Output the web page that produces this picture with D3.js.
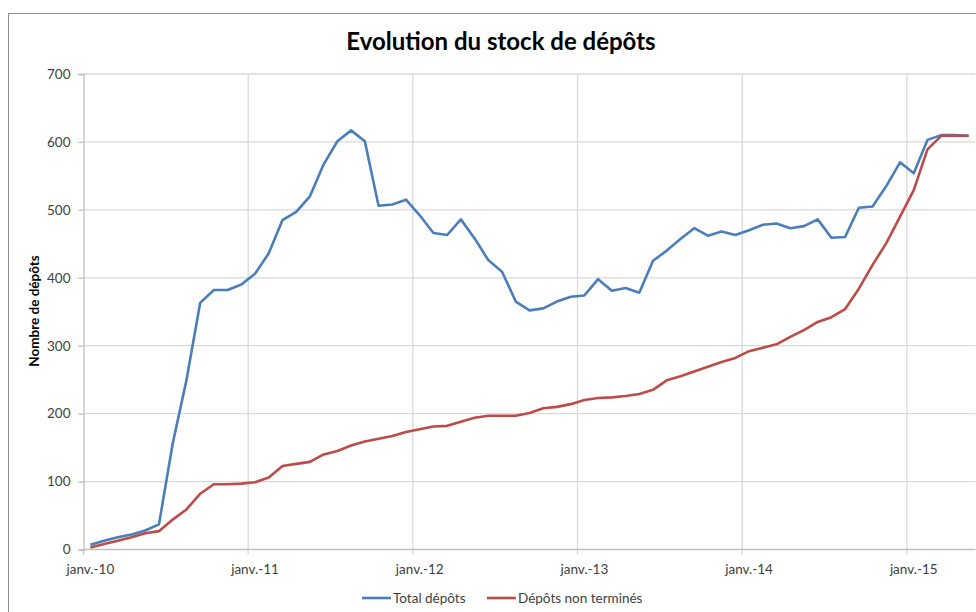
<!DOCTYPE html>
<html>
<head>
<meta charset="utf-8">
<script src="https://cdn.jsdelivr.net/npm/d3@7/dist/d3.min.js"></script>
<style>
  html, body { margin: 0; padding: 0; background: #fff; }
  svg { display: block; font-family: Lato, "Open Sans", sans-serif; }
</style>
</head>
<body>
<svg id="chart" width="976" height="612"></svg>
<script>
// Monthly stock of filings, January 2010 to May 2015
const startMonth = "2010-01";
const monthCount = 65;
const totalDepots = [7,13,18,22,28,37,156,249,363,382,382,390,
  406,436,485,497,520,567,601,617,601,506,508,515,
  492,466,463,486,458,426,409,365,352,355,365,372,
  374,398,381,385,378,425,440,457,473,462,468,463,
  470,478,480,473,476,486,459,460,503,505,535,570,
  554,603,610,610,609];
const depotsNonTermines = [3,8,13,18,24,27,44,59,82,96,96,97,
  99,106,123,126,129,140,145,153,159,163,167,173,
  177,181,182,188,194,197,197,197,201,208,210,214,
  220,223,224,226,229,235,249,255,262,269,276,282,
  292,297,302,313,323,335,342,354,384,419,451,490,
  529,589,609,609,609];
const yTicks = [0,100,200,300,400,500,600,700];
const yearLabels = ["janv.-10","janv.-11","janv.-12","janv.-13","janv.-14","janv.-15"];
const seriesNames = ["Total dépôts","Dépôts non terminés"];
const seriesColors = ["#4a7ebb","#be4b48"];

const parse = d3.utcParse("%Y-%m");
const months = d3.utcMonth.range(parse(startMonth), d3.utcMonth.offset(parse(startMonth), monthCount));
const fmtKey = d3.utcFormat("%Y-%m");
const keys = months.map(fmtKey);

const svg = d3.select("#chart");

// Chart frame
svg.append("rect")
  .attr("x", 8.5).attr("y", 13.5).attr("width", 1000).attr("height", 700)
  .attr("fill", "#fff").attr("stroke", "#8c8c8c").attr("stroke-width", 1);

const plotLeft = 83.5, plotRight = 975.5, plotTop = 74, plotBottom = 549.5;

const x = d3.scaleBand().domain(keys).range([plotLeft, plotRight]).padding(0);
const y = d3.scaleLinear().domain([0, 700]).range([plotBottom, plotTop]);

// Horizontal gridlines
svg.append("g")
  .selectAll("line").data(yTicks.filter(d => d > 0)).join("line")
  .attr("x1", plotLeft).attr("x2", plotRight)
  .attr("y1", d => y(d)).attr("y2", d => y(d))
  .attr("stroke", "#d9d9d9").attr("stroke-width", 1.3);

// Year boundaries: vertical gridlines at each January
const janKeys = keys.filter((k, i) => i % 12 === 0);
svg.append("g")
  .selectAll("line").data(janKeys.slice(1)).join("line")
  .attr("x1", d => x(d)).attr("x2", d => x(d))
  .attr("y1", plotTop).attr("y2", plotBottom + 5)
  .attr("stroke", "#d9d9d9").attr("stroke-width", 1.3);

// Y axis
const yAxis = svg.append("g")
  .attr("transform", `translate(${plotLeft},0)`)
  .call(d3.axisLeft(y).tickValues(yTicks).tickSize(5).tickPadding(8));
yAxis.select(".domain").attr("stroke", "#bfbfbf").attr("stroke-width", 1.3);
yAxis.selectAll(".tick line").attr("stroke", "#bfbfbf").attr("stroke-width", 1.3);
yAxis.selectAll(".tick text").attr("fill", "#404040").style("font-size", "13.5px")
  .style("font-family", "Lato, sans-serif");

// X axis baseline and January labels
svg.append("line")
  .attr("x1", plotLeft).attr("x2", plotRight).attr("y1", plotBottom).attr("y2", plotBottom)
  .attr("stroke", "#bfbfbf").attr("stroke-width", 1.3);
svg.append("line")
  .attr("x1", plotLeft).attr("x2", plotLeft).attr("y1", plotBottom).attr("y2", plotBottom + 5)
  .attr("stroke", "#bfbfbf").attr("stroke-width", 1.3);

svg.append("g")
  .selectAll("text").data(janKeys).join("text")
  .attr("x", d => x(d) + x.bandwidth() / 2)
  .attr("y", plotBottom + 24)
  .attr("text-anchor", "middle")
  .attr("fill", "#404040")
  .style("font-size", "13.5px")
  .text((d, i) => yearLabels[i]);

// Lines
const line = d3.line()
  .x((d, i) => x(keys[i]) + x.bandwidth() / 2)
  .y(d => y(d));

[totalDepots, depotsNonTermines].forEach((series, s) => {
  svg.append("path")
    .datum(series)
    .attr("fill", "none")
    .attr("stroke", seriesColors[s])
    .attr("stroke-width", 2.6)
    .attr("stroke-linejoin", "round")
    .attr("d", line);
});

// Title
svg.append("text")
  .attr("x", 501).attr("y", 50)
  .attr("text-anchor", "middle")
  .attr("fill", "#000")
  .style("font-size", "24px").style("font-weight", "bold")
  .text("Evolution du stock de dépôts");

// Y axis title
svg.append("text")
  .attr("transform", "translate(39,311) rotate(-90)")
  .attr("text-anchor", "middle")
  .attr("fill", "#000")
  .style("font-size", "13.5px").style("font-weight", "bold")
  .text("Nombre de dépôts");

// Legend
const legendItems = [
  { x: 362, name: seriesNames[0], color: seriesColors[0] },
  { x: 487, name: seriesNames[1], color: seriesColors[1] }
];
const lg = svg.append("g").attr("transform", "translate(0,598)");
legendItems.forEach(item => {
  lg.append("line")
    .attr("x1", item.x).attr("x2", item.x + 29)
    .attr("y1", 0).attr("y2", 0)
    .attr("stroke", item.color).attr("stroke-width", 2.6);
  lg.append("text")
    .attr("x", item.x + 31).attr("y", 4.5)
    .attr("fill", "#404040")
    .style("font-size", "13.5px")
    .text(item.name);
});
</script>
</body>
</html>
